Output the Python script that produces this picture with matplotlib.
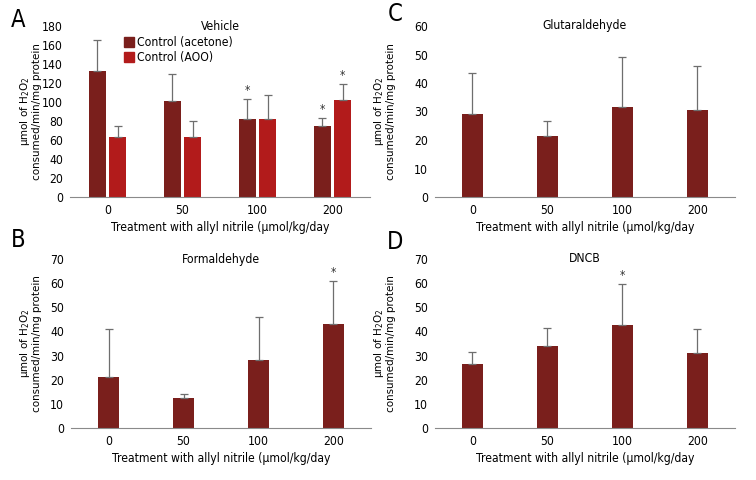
import numpy as np
import matplotlib
matplotlib.use('Agg')
import matplotlib.pyplot as plt
from matplotlib import font_manager as fm
from matplotlib.patches import Patch

# the reference uses a condensed face; use one if the machine has it
_fonts = fm.fontManager.ttflist
FAMILY, STRETCH, SCALE = 'DejaVu Sans', 'normal', 0.88
if any(f.name == 'Liberation Sans Narrow' for f in _fonts):
    FAMILY, SCALE = 'Liberation Sans Narrow', 1.0
elif any(f.name == 'DejaVu Sans' and 'condensed' in str(f.stretch) for f in _fonts):
    STRETCH, SCALE = 'condensed', 0.92

plt.rcParams['font.family'] = [FAMILY, 'DejaVu Sans']
plt.rcParams['font.stretch'] = STRETCH
plt.rcParams['mathtext.fontset'] = 'custom'
plt.rcParams['mathtext.rm'] = FAMILY
plt.rcParams['mathtext.default'] = 'regular'

DOSES = ['0', '50', '100', '200']
XLABEL = 'Treatment with allyl nitrile (\u03bcmol/kg/day'
YLABEL = '\u03bcmol of H$_2$O$_2$\nconsumed/min/mg protein'

# panel A: two controls
veh_acetone = [133, 101, 82, 75]
veh_acetone_top = [165, 129, 103, 83]
veh_acetone_star = [False, False, True, True]
veh_aoo = [63, 63, 82, 102]
veh_aoo_top = [75, 80, 107, 119]
veh_aoo_star = [False, False, False, True]

# panel B
form_vals = [21, 12.5, 28, 43]
form_top = [41, 14, 46, 61]
form_star = [False, False, False, True]

# panel C
glut_vals = [29, 21.5, 31.5, 30.5]
glut_top = [43.5, 26.5, 49, 46]
glut_star = [False, False, False, False]

# panel D
dncb_vals = [26.5, 34, 42.5, 31]
dncb_top = [31.5, 41.5, 59.5, 41]
dncb_star = [False, False, True, False]

DARK = '#7a1f1c'
BRIGHT = '#b21b1b'
ERR = '#6e6e6e'

FS_TICK = 9.5 * SCALE
FS_LAB = 9.5 * SCALE
FS_YLAB = 9.0 * SCALE

W, H = 756, 480
fig = plt.figure(figsize=(W / 100, H / 100), dpi=100)


def px_axes(left, top, right, bottom):
    return fig.add_axes([left / W, 1 - bottom / H, (right - left) / W, (bottom - top) / H])


def bars(ax, x, vals, tops, stars, color, width, ymax):
    vals = np.asarray(vals, float)
    up = np.asarray(tops, float) - vals
    ax.bar(x, vals, width=width, color=color, zorder=2)
    ax.errorbar(x, vals, yerr=[np.zeros_like(up), up], fmt='none', ecolor=ERR,
                elinewidth=0.9, capsize=3, capthick=0.9, zorder=3)
    for xi, t, s in zip(x, tops, stars):
        if s:
            ax.text(xi, t + ymax * 0.012, '*', ha='center', va='bottom',
                    fontsize=FS_TICK, color='#333333')


def style(ax, ymax, step, title, ylab_x):
    ax.set_xlim(-0.5, 3.5)
    ax.set_ylim(0, ymax)
    ax.set_yticks(np.arange(0, ymax + 1, step))
    ax.set_xticks(range(4))
    ax.set_xticklabels(DOSES)
    for s in ['top', 'right', 'left']:
        ax.spines[s].set_visible(False)
    ax.spines['bottom'].set_color('#8a8a8a')
    ax.tick_params(length=0, labelsize=FS_TICK, pad=5)
    ax.set_xlabel(XLABEL, fontsize=FS_LAB, labelpad=3)
    ax.set_ylabel(YLABEL, fontsize=FS_YLAB, linespacing=1.0)
    ax.yaxis.set_label_coords(ylab_x, 0.5)
    ax.text(0.5, 1.0, title, transform=ax.transAxes, ha='center', va='center',
            fontsize=FS_LAB)


x = np.arange(4)

# A
axA = px_axes(70, 26, 370, 197)
bars(axA, x - 0.135, veh_acetone, veh_acetone_top, veh_acetone_star, DARK, 0.23, 180)
bars(axA, x + 0.135, veh_aoo, veh_aoo_top, veh_aoo_star, BRIGHT, 0.23, 180)
style(axA, 180, 20, 'Vehicle', -0.095)
axA.legend(handles=[Patch(color=DARK, label='Control (acetone)'),
                    Patch(color=BRIGHT, label='Control (AOO)')],
           loc='upper left', bbox_to_anchor=(0.16, 0.975), frameon=False, fontsize=FS_LAB,
           handlelength=0.8, handleheight=0.8, handletextpad=0.3, labelspacing=0.15,
           borderpad=0)

# C
axC = px_axes(435, 26, 735, 197)
bars(axC, x, glut_vals, glut_top, glut_star, DARK, 0.29, 60)
style(axC, 60, 10, 'Glutaraldehyde', -0.13)

# B
axB = px_axes(71, 259, 371, 428)
bars(axB, x, form_vals, form_top, form_star, DARK, 0.29, 70)
style(axB, 70, 10, 'Formaldehyde', -0.095)

# D
axD = px_axes(435, 259, 735, 428)
bars(axD, x, dncb_vals, dncb_top, dncb_star, DARK, 0.29, 70)
style(axD, 70, 10, 'DNCB', -0.13)

for lab, px, py in [('A', 18, 20), ('C', 395, 14), ('B', 18, 240), ('D', 395, 242)]:
    fig.text(px / W, 1 - py / H, lab, fontsize=17, ha='center', va='center')

fig.savefig('out.png', dpi=100)
